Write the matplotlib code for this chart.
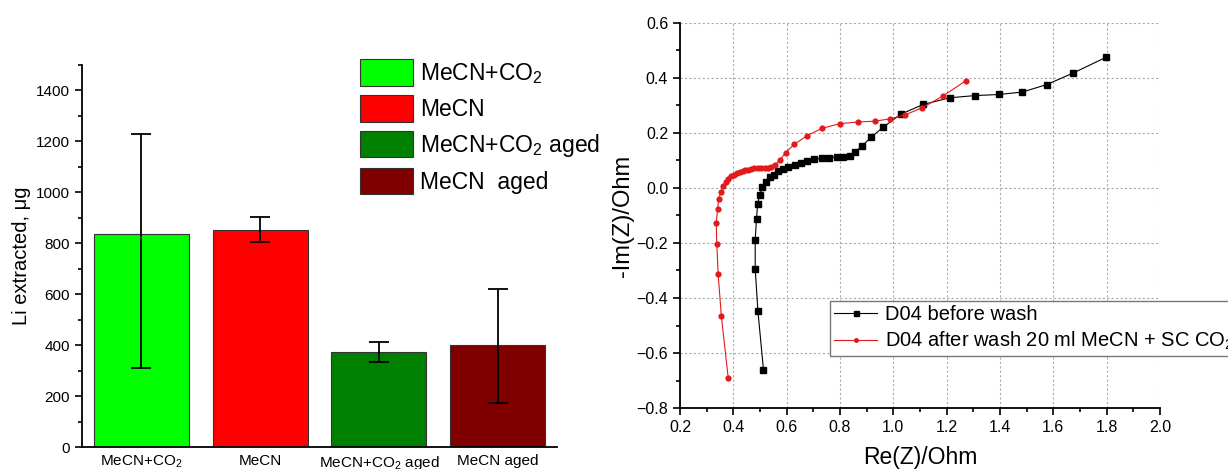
import matplotlib.pyplot as plt
from matplotlib.patches import Patch
from matplotlib.ticker import MultipleLocator

plt.rcParams['font.family'] = ['Liberation Sans', 'DejaVu Sans']
plt.rcParams['mathtext.fontset'] = 'custom'
plt.rcParams['mathtext.rm'] = 'Liberation Sans'
plt.rcParams['mathtext.it'] = 'Liberation Sans:italic'

# Li extraction, bar chart
samples = ['MeCN+CO$_2$', 'MeCN', 'MeCN+CO$_2$ aged', 'MeCN aged']
legend_names = ['MeCN+CO$_2$', 'MeCN', 'MeCN+CO$_2$ aged', 'MeCN  aged']
li_extracted = [835, 854, 373, 400]
err_low = [525, 48, 39, 226]
err_high = [393, 50, 40, 222]
bar_colors = ['#00ff00', '#ff0000', '#008000', '#800000']

# impedance spectra (Nyquist)
re_before = [0.513, 0.492, 0.482, 0.482, 0.487, 0.491, 0.499, 0.509, 0.521, 0.536,
             0.552, 0.569, 0.588, 0.605, 0.631, 0.653, 0.677, 0.704, 0.731, 0.760,
             0.789, 0.812, 0.836, 0.856, 0.883, 0.916, 0.963, 1.029, 1.113, 1.211,
             1.305, 1.396, 1.484, 1.575, 1.672, 1.797]
im_before = [-0.661, -0.446, -0.293, -0.188, -0.111, -0.059, -0.024, 0.002, 0.023, 0.040,
             0.049, 0.060, 0.069, 0.077, 0.084, 0.092, 0.098, 0.104, 0.108, 0.110,
             0.113, 0.113, 0.117, 0.131, 0.153, 0.184, 0.222, 0.269, 0.304, 0.328,
             0.336, 0.340, 0.349, 0.376, 0.417, 0.475]
re_after = [0.381, 0.355, 0.343, 0.338, 0.336, 0.341, 0.345, 0.354, 0.363, 0.372,
            0.381, 0.392, 0.403, 0.413, 0.424, 0.435, 0.445, 0.456, 0.467, 0.479,
            0.491, 0.504, 0.517, 0.529, 0.543, 0.557, 0.575, 0.596, 0.629, 0.676,
            0.732, 0.800, 0.867, 0.933, 0.989, 1.044, 1.109, 1.185, 1.272]
im_after = [-0.692, -0.466, -0.312, -0.205, -0.127, -0.076, -0.040, -0.013, 0.007, 0.023,
            0.034, 0.043, 0.049, 0.055, 0.059, 0.063, 0.065, 0.067, 0.070, 0.071,
            0.072, 0.072, 0.073, 0.073, 0.077, 0.084, 0.102, 0.129, 0.159, 0.190,
            0.217, 0.234, 0.240, 0.243, 0.252, 0.266, 0.292, 0.334, 0.390]

fig = plt.figure(figsize=(12.28, 4.69), dpi=100)

# ---- left panel ----
ax1 = fig.add_axes([82 / 1228, 22 / 469, 475 / 1228, 382 / 469])
x = [1, 2, 3, 4]
ax1.bar(x, li_extracted, width=0.8, color=bar_colors, edgecolor='#333333', linewidth=0.8)
ax1.errorbar(x, li_extracted, yerr=[err_low, err_high], fmt='none', ecolor='black',
             elinewidth=1.3, capsize=7, capthick=1.3)
ax1.set_xlim(0.5, 4.5)
ax1.set_ylim(0, 1500)
ax1.set_xticks(x)
ax1.set_xticklabels(samples, fontsize=11)
ax1.yaxis.set_major_locator(MultipleLocator(200))
ax1.yaxis.set_minor_locator(MultipleLocator(100))
ax1.tick_params(axis='y', labelsize=11, width=1.2, length=5)
ax1.tick_params(axis='y', which='minor', width=1.2, length=3)
ax1.tick_params(axis='x', length=0, pad=5)
for s in ['top', 'right']:
    ax1.spines[s].set_visible(False)
for s in ['left', 'bottom']:
    ax1.spines[s].set_linewidth(1.3)
ax1.set_ylabel('Li extracted, \u03bcg', fontsize=14.5, labelpad=4)

handles = [Patch(facecolor=c, edgecolor='#333333', linewidth=0.8) for c in bar_colors]
ax1.legend(handles, legend_names, loc='upper left', bbox_to_anchor=(351 / 1228, 1 - 50 / 469),
           bbox_transform=fig.transFigure, frameon=False, fontsize=16.5, borderaxespad=0,
           borderpad=0.4, handlelength=2.3, handleheight=1.4, labelspacing=0.4,
           handletextpad=0.3)

# ---- right panel ----
ax2 = fig.add_axes([680 / 1228, 61 / 469, 480 / 1228, 385 / 469])
ax2.plot(re_before, im_before, color='black', marker='s', markersize=4.5, linewidth=0.8,
         label='D04 before wash')
ax2.plot(re_after, im_after, color='#e31a1c', marker='o', markersize=4.5, linewidth=0.8,
         markeredgewidth=0, label='D04 after wash 20 ml MeCN + SC CO$_2$')
ax2.set_xlim(0.2, 2.0)
ax2.set_ylim(-0.8, 0.6)
ax2.xaxis.set_major_locator(MultipleLocator(0.2))
ax2.xaxis.set_minor_locator(MultipleLocator(0.1))
ax2.yaxis.set_major_locator(MultipleLocator(0.2))
ax2.yaxis.set_minor_locator(MultipleLocator(0.1))
ax2.grid(True, which='major', linestyle=(0, (2, 2)), color='#aaaaaa', linewidth=0.8)
ax2.set_axisbelow(True)
ax2.tick_params(which='both', labelsize=11.5, width=1.2)
ax2.tick_params(which='major', length=5)
ax2.tick_params(which='minor', length=3)
for s in ['top', 'right']:
    ax2.spines[s].set_visible(False)
for s in ['left', 'bottom']:
    ax2.spines[s].set_linewidth(1.3)
ax2.set_xlabel('Re(Z)/Ohm', fontsize=16.5, labelpad=8)
ax2.set_ylabel('-Im(Z)/Ohm', fontsize=17, labelpad=2)
leg = ax2.legend(loc='upper left', bbox_to_anchor=(830 / 1228, 1 - 301 / 469),
                 bbox_transform=fig.transFigure, fontsize=14.5, fancybox=False,
                 framealpha=1, edgecolor='#777777', borderaxespad=0, handlelength=2.15,
                 labelspacing=0.3, borderpad=0.2, handletextpad=0.4, markerscale=0.8)
leg.get_frame().set_linewidth(1.0)

fig.savefig('out.png', dpi=100)
